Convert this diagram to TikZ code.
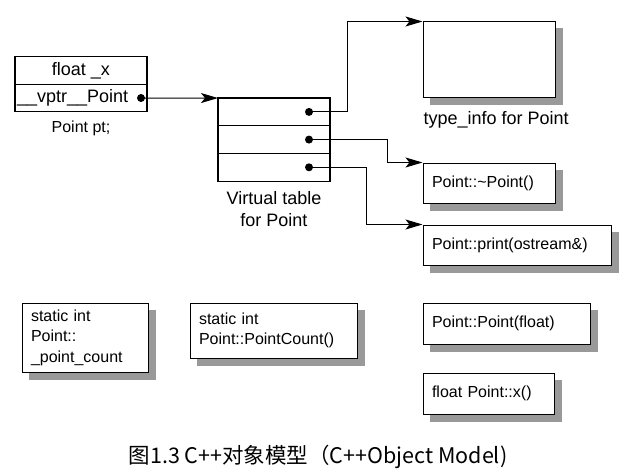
\documentclass[tikz,border=0pt]{standalone}
\usepackage{fontspec}
\setmainfont{Liberation Sans}
\newfontfamily\cjk{Noto Sans CJK SC}
\usetikzlibrary{positioning}
\usetikzlibrary{backgrounds}
\usetikzlibrary{arrows.meta}
\colorlet{shadowgray}{black!40}
\tikzset{
  % node options
  field/.style={rectangle,draw,line width=1.2pt,outer sep=0pt,inner sep=2pt,
    minimum width=132pt,minimum height=27.5pt,font=\fontsize{18}{22}\selectfont},
  slot/.style={rectangle,draw,line width=1.2pt,outer sep=0pt,
    minimum width=112pt,minimum height=27.7pt},
  membox/.style={rectangle,draw,line width=1pt,fill=white,align=left,
    inner xsep=9pt,inner ysep=0pt,font=\fontsize{16}{20.5}\selectfont},
  caption/.style={font=\fontsize{18}{22}\selectfont},
  dot/.style={circle,fill,inner sep=0pt,minimum size=8pt},
  % path options
  ptr/.style={-{Stealth[length=17pt,width=10pt,inset=4pt]},line width=1pt},
}
\begin{document}
\begin{tikzpicture}[x=1pt,y=-1pt]
  \useasboundingbox (0,0) rectangle (628,468);
  % the object
  \node[field] (fx) at (81,70.5) {float \_x};
  \node[field,below=0pt of fx,align=left,text width=128pt] (vptr) {\_\_vptr\_\_Point};
  \node[dot] (vd) at ([xshift=-6pt]vptr.east) {};
  \node[font=\fontsize{16}{20}\selectfont,below=6pt of vptr] (ptlabel) {Point pt;};
  % the virtual table
  \node[slot] (s1) at (274,111.9) {};
  \node[slot,below=0pt of s1] (s2) {};
  \node[slot,below=0pt of s2] (s3) {};
  \node[dot] (d1) at ([xshift=-21pt]s1.east) {};
  \node[dot] (d2) at ([xshift=-21pt]s2.east) {};
  \node[dot] (d3) at ([xshift=-21pt]s3.east) {};
  \node[caption,align=center,below=7pt of s3] (vtlabel) {Virtual table\\for Point};
  % members
  \node[membox,text width=114pt,minimum height=76pt] (tinfo) at (489,60) {};
  \node[caption,anchor=west] (tilabel) at (420,120) {type\_info for Point};
  \node[membox,text width=114pt,minimum height=40pt] (dtor) at (489,183) {Point::\textasciitilde Point()};
  \node[membox,text width=170pt,minimum height=40pt] (print) at (517,245) {Point::print(ostream\&)};
  \node[membox,text width=149pt,minimum height=41pt] (ctor) at (506.5,323.5) {Point::Point(float)};
  \node[membox,text width=113pt,minimum height=41pt] (getx) at (488.5,393.5) {float Point::x()};
  \node[membox,text width=108pt,minimum height=69pt] (count) at (85,337.5) {static int\\Point::\\\_point\_count};
  \node[membox,text width=149pt,minimum height=55pt] (pcount) at (273.5,330.5) {static int\\Point::PointCount()};
  % shadows
  \begin{scope}[on background layer]
    \foreach \b in {tinfo,dtor,print,ctor,getx,count,pcount}
      \fill[shadowgray] ([xshift=7pt,yshift=-7pt]\b.south west) rectangle ([xshift=7pt,yshift=-7pt]\b.north east);
  \end{scope}
  % pointers
  \draw[ptr] (vd.center) -- (s1.north west);
  \draw[ptr] (d1.center) -- ++(38,0) |- (tinfo.north west);
  \draw[ptr] (d2.center) -- ++(78,0) |- (dtor.north west);
  \draw[ptr] (d3.center) -- ++(57,0) |- (print.north west);
  \node[font=\cjk\fontsize{21.5}{26}\selectfont] (title) at (318,457) {图1.3 C++对象模型（C++Object Model)};
\end{tikzpicture}
\end{document}
